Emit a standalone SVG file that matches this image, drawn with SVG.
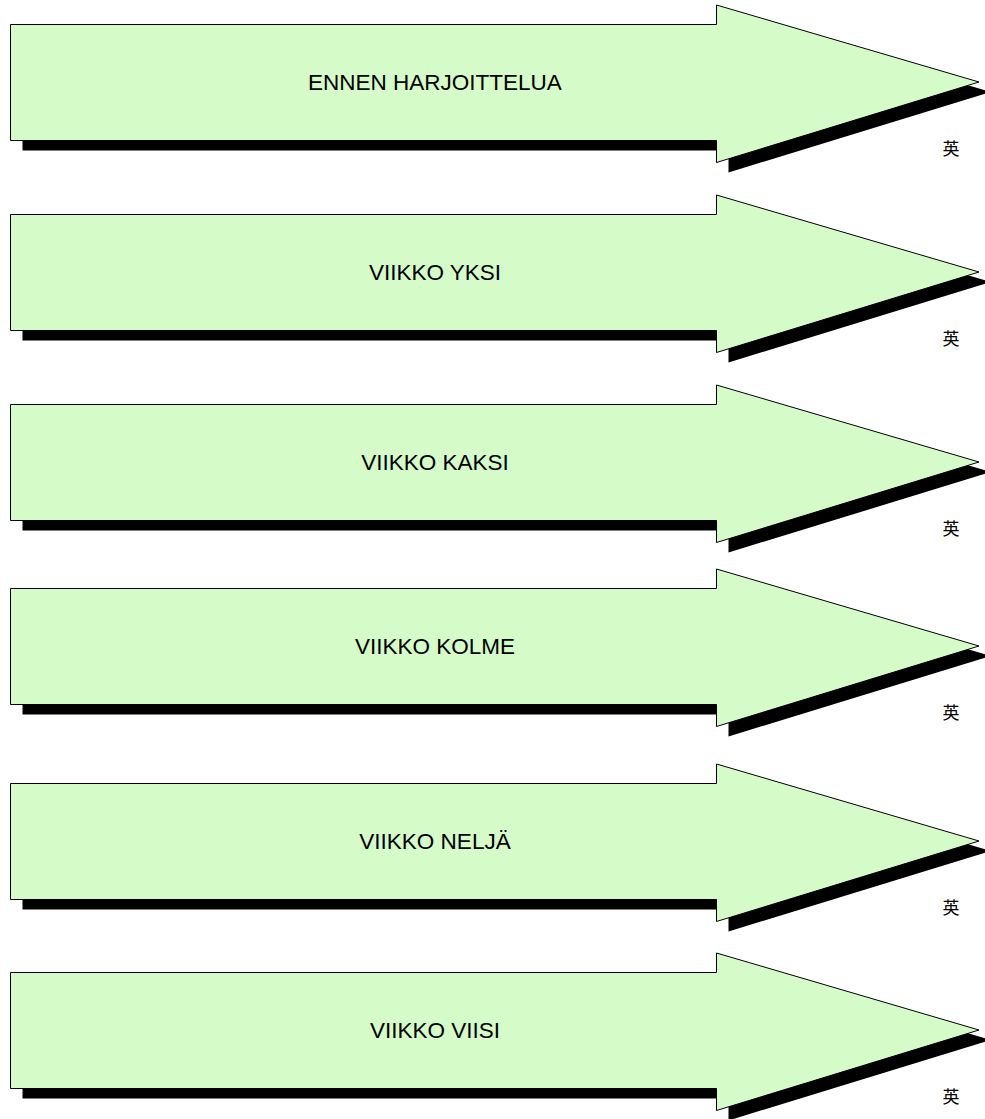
<svg xmlns="http://www.w3.org/2000/svg" xmlns:xlink="http://www.w3.org/1999/xlink" width="985" height="1119" viewBox="0 0 985 1119">
<style>
.shadow{fill:#000;stroke:none}
.arrow{fill:#d5fbc9;stroke:#000;stroke-width:1}
.label{font-family:"Liberation Sans",Arial,sans-serif;font-size:22.5px;fill:#000;text-anchor:middle}
.sym{font-family:"Noto Sans CJK SC","Noto Sans CJK JP",sans-serif;font-size:17px;fill:#000;text-anchor:middle}
</style>
<defs>
<path id="arr" d="M10.5,0.5 H716.5 V-19 L979,58 L716.5,138.5 V116.5 H10.5 Z"/>
</defs>
<rect width="985" height="1119" fill="#fff"/>
<g id="node1" transform="translate(0,24)">
<use xlink:href="#arr" href="#arr" class="shadow" transform="translate(12,10)"/>
<use xlink:href="#arr" href="#arr" class="arrow"/>
<text class="label" x="435" y="66">ENNEN HARJOITTELUA</text>
<text class="sym" x="951" y="131">英</text>
</g>
<g id="node2" transform="translate(0,214)">
<use xlink:href="#arr" href="#arr" class="shadow" transform="translate(12,10)"/>
<use xlink:href="#arr" href="#arr" class="arrow"/>
<text class="label" x="435" y="66">VIIKKO YKSI</text>
<text class="sym" x="951" y="131">英</text>
</g>
<g id="node3" transform="translate(0,404)">
<use xlink:href="#arr" href="#arr" class="shadow" transform="translate(12,10)"/>
<use xlink:href="#arr" href="#arr" class="arrow"/>
<text class="label" x="435" y="66">VIIKKO KAKSI</text>
<text class="sym" x="951" y="131">英</text>
</g>
<g id="node4" transform="translate(0,588)">
<use xlink:href="#arr" href="#arr" class="shadow" transform="translate(12,10)"/>
<use xlink:href="#arr" href="#arr" class="arrow"/>
<text class="label" x="435" y="66">VIIKKO KOLME</text>
<text class="sym" x="951" y="131">英</text>
</g>
<g id="node5" transform="translate(0,783)">
<use xlink:href="#arr" href="#arr" class="shadow" transform="translate(12,10)"/>
<use xlink:href="#arr" href="#arr" class="arrow"/>
<text class="label" x="435" y="66">VIIKKO NELJÄ</text>
<text class="sym" x="951" y="131">英</text>
</g>
<g id="node6" transform="translate(0,972)">
<use xlink:href="#arr" href="#arr" class="shadow" transform="translate(12,10)"/>
<use xlink:href="#arr" href="#arr" class="arrow"/>
<text class="label" x="435" y="66">VIIKKO VIISI</text>
<text class="sym" x="951" y="131">英</text>
</g>
<g id="connectors"/>
</svg>
